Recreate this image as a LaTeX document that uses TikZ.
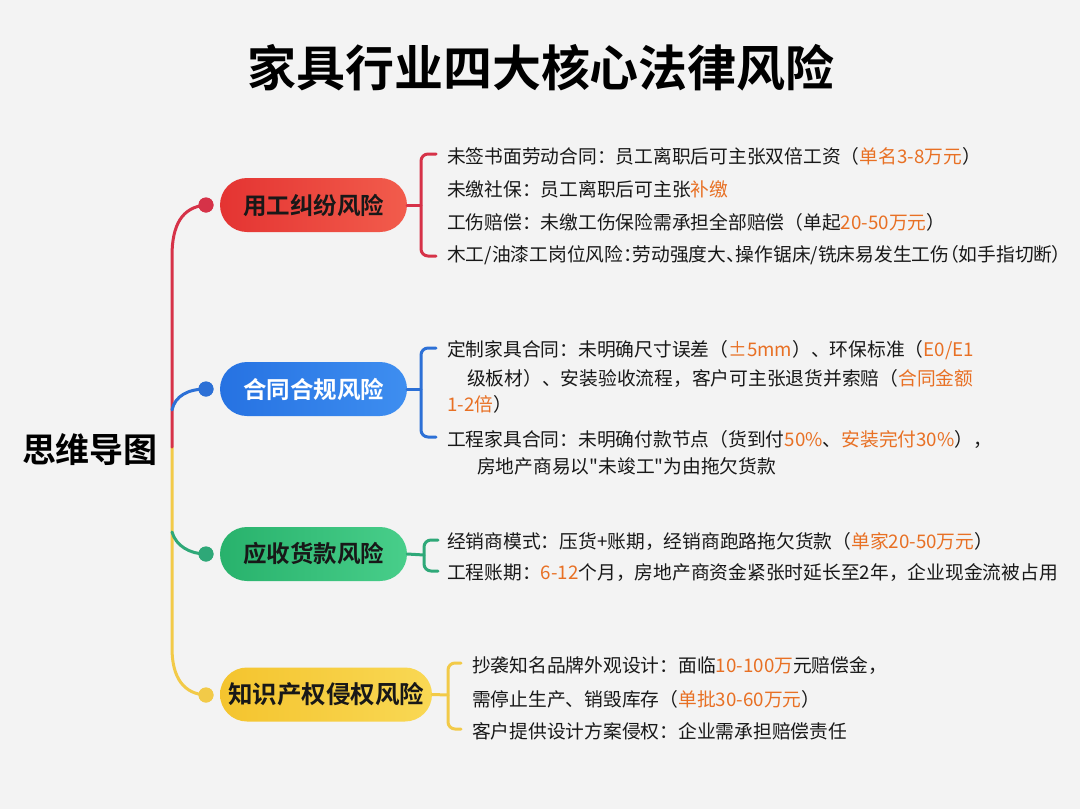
\documentclass[tikz,border=0pt]{standalone}
\usepackage{fontspec}
\setmainfont{Noto Sans CJK SC}[BoldFont={Noto Sans CJK SC Bold}]
\definecolor{bg}{RGB}{243,243,243}
\definecolor{redA}{RGB}{228,52,50}
\definecolor{redB}{RGB}{242,92,76}
\definecolor{redL}{RGB}{214,50,72}
\definecolor{bluA}{RGB}{38,114,226}
\definecolor{bluB}{RGB}{62,142,240}
\definecolor{bluL}{RGB}{44,112,214}
\definecolor{grnA}{RGB}{40,178,108}
\definecolor{grnB}{RGB}{72,206,138}
\definecolor{grnL}{RGB}{46,168,120}
\definecolor{ylwA}{RGB}{244,196,46}
\definecolor{ylwB}{RGB}{249,216,84}
\definecolor{ylwL}{RGB}{242,202,72}
\definecolor{hl}{RGB}{232,112,36}
\definecolor{ink}{RGB}{24,24,24}
\newcommand{\hl}[1]{\textcolor{hl}{#1}}
\newcommand{\sq}{\XeTeXglyph\XeTeXcharglyph34\relax}
\tikzset{
  pill/.style={rounded corners=27pt, minimum height=54pt, inner sep=0pt,
    font=\bfseries\fontsize{23.5}{26}\selectfont, text=ink},
  item/.style={anchor=west, inner sep=0pt, font=\fontsize{18.75}{22}\selectfont, text=ink},
  branch/.style={line width=3pt, line cap=round},
  bracket/.style={line width=3pt, line cap=round, rounded corners=7pt},
  dotn/.style={circle, inner sep=0pt, minimum size=15pt},
}
\begin{document}
\begin{tikzpicture}[x=1pt,y=-1pt]
\fill[bg] (0,0) rectangle (1080,809);
\useasboundingbox (0,0) rectangle (1080,809);

% title
\node[font=\bfseries\fontsize{49}{53}\selectfont, text=black] (title) at (541,68) {家具行业四大核心法律风险};
\node[font=\bfseries\fontsize{34}{38}\selectfont, text=black] (root) at (90,450) {思维导图};

% dots
\node[dotn, fill=redL] (rd) at (206,205) {};
\node[dotn, fill=bluL] (bd) at (206,389) {};
\node[dotn, fill=grnL] (gd) at (206,554) {};
\node[dotn, fill=ylwL] (yd) at (206,695) {};
\coordinate (tj) at (172,447);
\coordinate (bt) at (172,410);
\coordinate (gt) at (172,532);

% trunk and branches
\draw[branch, ylwL] (tj) -- (172,648) .. controls (172,678) and (184,694) .. (yd.center);
\draw[branch, redL] (rd.center) .. controls (182,207) and (172,225) .. (172,256) -- (tj);
\draw[branch, bluL] (bt) .. controls (175,396) and (188,389) .. (bd.center);
\draw[branch, grnL] (gt) .. controls (176,546) and (190,554) .. (gd.center);
\node[dotn, fill=redL] at (rd) {};
\node[dotn, fill=bluL] at (bd) {};
\node[dotn, fill=grnL] at (gd) {};
\node[dotn, fill=ylwL] at (yd) {};

% pills
\node[pill, minimum width=187pt, left color=redA, right color=redB] (p1) at (313.5,205) {用工纠纷风险};
\node[pill, minimum width=187pt, left color=bluA, right color=bluB, text=white] (p2) at (313.5,389) {合同合规风险};
\node[pill, minimum width=187pt, left color=grnA, right color=grnB] (p3) at (313.5,554) {应收货款风险};
\node[pill, minimum width=212pt, left color=ylwA, right color=ylwB, font=\bfseries\fontsize{24.5}{27}\selectfont] (p4) at (326,694.5) {知识产权侵权风险};

% brackets
\coordinate (r1) at (421,205);
\draw[bracket, redL] (p1.east) -- (r1);
\draw[bracket, redL] (436,154) -- (421,154) -- (421,256) -- (436,256);
\coordinate (b1) at (421,389);
\draw[bracket, bluL] (p2.east) -- (b1);
\draw[bracket, bluL] (436,348) -- (421,348) -- (421,437) -- (436,437);
\coordinate (g1) at (424,555);
\draw[bracket, grnL] (p3.east) -- (g1);
\draw[bracket, grnL] (438,540) -- (424,540) -- (424,571) -- (438,571);
\coordinate (y1) at (448,695);
\draw[bracket, ylwL] (p4.east) -- (y1);
\draw[bracket, ylwL] (461,663) -- (448,663) -- (448,729) -- (461,729);

% red items
\node[item] (r1a) at (447,156) {未签书面劳动合同：员工离职后可主张双倍工资（\hl{单名3-8万元}）};
\node[item] (r1b) at (447,189) {未缴社保：员工离职后可主张\hl{补缴}};
\node[item] (r1c) at (447,222) {工伤赔偿：未缴工伤保险需承担全部赔偿（单起\hl{20-50万元}）};
\node[item, font=\fontsize{18.75}{22}\selectfont\addfontfeature{RawFeature=+palt}] (r1d) at (447,255) {木工/油漆工岗位风险：劳动强度大、操作锯床/铣床易发生工伤（如手指切断）};

% blue items
\node[item] (b1a) at (447,350) {定制家具合同：未明确尺寸误差（\hl{±5mm}）、环保标准（\hl{E0/E1}};
\node[item] (b1b) at (467,378) {级板材）、安装验收流程，客户可主张退货并索赔（\hl{合同金额}};
\node[item] (b1c) at (447,404) {\hl{1-2倍}）};
\node[item] (b1d) at (447,439) {工程家具合同：未明确付款节点（货到付\hl{50\%}、\hl{安装完付30\%}），};
\node[item] (b1e) at (477,466) {房地产商易以\sq 未竣工\sq 为由拖欠货款};

% green items
\node[item] (g1a) at (447,541) {经销商模式：压货+账期，经销商跑路拖欠货款（\hl{单家20-50万元}）};
\node[item] (g1b) at (447,573) {工程账期：\hl{6-12}个月，房地产商资金紧张时延长至2年，企业现金流被占用};

% yellow items
\node[item] (y1a) at (472,666) {抄袭知名品牌外观设计：面临\hl{10-100万}元赔偿金，};
\node[item] (y1b) at (472,699) {需停止生产、销毁库存（\hl{单批30-60万元}）};
\node[item] (y1c) at (472,731) {客户提供设计方案侵权：企业需承担赔偿责任};
\end{tikzpicture}
\end{document}
